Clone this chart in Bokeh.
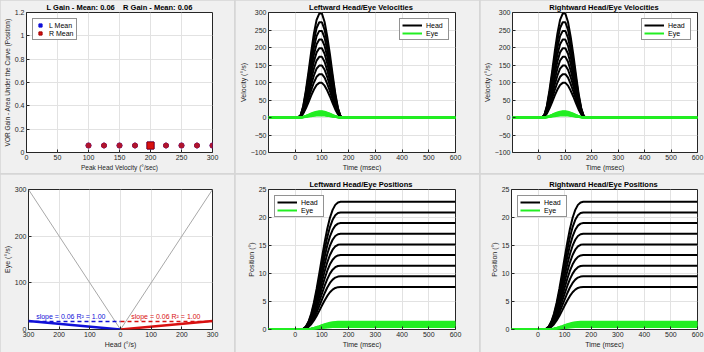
from bokeh.plotting import figure
from bokeh.layouts import column, row
from bokeh.models import Range1d, FixedTicker, Label
from bokeh.embed import file_html
from bokeh.resources import INLINE

# ---------------- data ----------------
PEAK_HEAD_VEL = [100, 125, 150, 175, 200, 225, 250, 275, 300]
L_GAIN = [0.06, 0.06, 0.06, 0.06, 0.06, 0.06, 0.06, 0.06, 0.06]
R_GAIN = [0.06, 0.06, 0.06, 0.06, 0.06, 0.06, 0.06, 0.06, 0.06]
MEAN_X = [200]
L_MEAN = [0.06]
R_MEAN = [0.06]

TIME_MS = [-100, 0, 10, 20, 30, 40, 50, 60, 70, 80, 90, 100, 110, 120, 130,
           140, 150, 160, 170, 180, 190, 200, 600]
VEL_SHAPE = [0, 0, 0, 0.02, 0.11, 0.26, 0.44, 0.63, 0.80, 0.93, 0.99, 0.99,
             0.91, 0.77, 0.60, 0.41, 0.23, 0.09, 0.01, 0, 0, 0, 0]
POS_SHAPE = [0, 0, 0, 0, 0.005, 0.024, 0.063, 0.125, 0.211, 0.318, 0.438,
             0.562, 0.682, 0.789, 0.875, 0.937, 0.976, 0.995, 1.0, 1.0, 1.0, 1.0, 1.0]
HEAD_PEAK_VEL = [100, 125, 150, 175, 200, 225, 250, 275, 300]
EYE_PEAK_VEL = [6.0, 7.5, 9.0, 10.5, 12.0, 13.5, 15.0, 16.5, 18.0]
HEAD_FINAL_POS = [7.6, 9.5, 11.4, 13.3, 15.2, 17.1, 19.0, 20.9, 22.8]
EYE_FINAL_POS = [0.46, 0.57, 0.68, 0.80, 0.91, 1.03, 1.14, 1.25, 1.37]

UNITY_X = [-300, 0, 300]
UNITY_Y = [300, 0, 300]
L_FIT_X = [-300, 0]
L_FIT_Y = [18, 0]
R_FIT_X = [0, 300]
R_FIT_Y = [0, 18]
L_REF_Y = 17
R_REF_Y = 17
FIT_TEXT = "slope = 0.06  R\u00b2 = 1.00"

BG = "#f0f0f0"
AX = "#262626"
GRID = "#e2e2e2"
BLUE = "#1010d8"
RED = "#d81010"
DRED = "#b0142c"
GREEN = "#22ee22"
FONT = "Liberation Sans"


def make_fig(w, h, l, r, t, b, xr, yr, xt, yt, title=None, xlabel="", ylabel="",
             lab_size="7px"):
    p = figure(width=w, height=h, min_border_left=l, min_border_right=r,
               min_border_top=t, min_border_bottom=b, x_range=Range1d(*xr),
               y_range=Range1d(*yr), output_backend="svg", toolbar_location=None,
               title=title)
    p.border_fill_color = BG
    p.background_fill_color = "white"
    p.outline_line_color = AX
    p.outline_line_width = 1
    if title:
        p.title.text_font = FONT
        p.title.text_font_size = "7.5px"
        p.title.text_font_style = "bold"
        p.title.text_color = "black"
        p.title.align = "center"
        p.title.standoff = 1
        p.title.offset = 0
    p.xaxis.ticker = FixedTicker(ticks=xt)
    p.yaxis.ticker = FixedTicker(ticks=yt)
    for ax in (p.xaxis[0], p.yaxis[0]):
        ax.axis_line_color = None
        ax.major_tick_in = 3
        ax.major_tick_out = 0
        ax.major_tick_line_color = AX
        ax.minor_tick_line_color = None
        ax.major_label_text_font = FONT
        ax.major_label_text_font_size = "7px"
        ax.major_label_text_color = AX
        ax.major_label_standoff = 2
        ax.axis_label_text_font = FONT
        ax.axis_label_text_font_size = lab_size
        ax.axis_label_text_font_style = "normal"
        ax.axis_label_text_color = AX
        ax.axis_label_standoff = 1
    p.xaxis.axis_label = xlabel
    p.yaxis.axis_label = ylabel
    p.grid.grid_line_color = GRID
    p.grid.grid_line_width = 1
    return p


def style_legend(p, loc, gw):
    lg = p.legend[0]
    lg.location = loc
    lg.margin = 6
    lg.padding = 2
    lg.spacing = 0
    lg.label_height = 8
    lg.glyph_height = 8
    lg.glyph_width = gw
    lg.label_standoff = 4
    lg.label_text_font = FONT
    lg.label_text_font_size = "7px"
    lg.label_text_color = "black"
    lg.border_line_color = AX
    lg.border_line_width = 1
    lg.background_fill_color = "white"
    lg.background_fill_alpha = 1


# ---------- panel 1: gain vs peak head velocity ----------
p1 = make_fig(234, 173, 25, 22, 11, 21, (0, 300), (0, 1.2),
              [0, 50, 100, 150, 200, 250, 300], [0, 0.2, 0.4, 0.6, 0.8, 1.0, 1.2],
              title="L Gain - Mean: 0.06\u00a0\u00a0\u00a0 R Gain - Mean: 0.06",
              xlabel="Peak Head Velocity (\u00b0/sec)",
              ylabel="VOR Gain - Area Under the Curve (Position)", lab_size="6.5px")
p1.scatter(PEAK_HEAD_VEL, L_GAIN, marker="circle", size=5, color=BLUE)
p1.scatter(PEAK_HEAD_VEL, R_GAIN, marker="circle", size=5, color=DRED)
p1.scatter(MEAN_X, L_MEAN, marker="square", size=7, color=BLUE, legend_label="L Mean")
p1.scatter(MEAN_X, R_MEAN, marker="square", size=7, color=RED, line_color="#a00000",
           legend_label="R Mean")
style_legend(p1, "top_left", 10)


# ---------- velocity panels ----------
def vel_panel(w, l, r, title):
    p = make_fig(w, 173, l, r, 11, 21, (-100, 600), (-100, 300),
                 [0, 100, 200, 300, 400, 500, 600],
                 [-100, -50, 0, 50, 100, 150, 200, 250, 300],
                 title=title, xlabel="Time (msec)", ylabel="Velocity (\u00b0/s)")
    for a in HEAD_PEAK_VEL:
        r_h = p.line(TIME_MS, [a * s for s in VEL_SHAPE], line_color="black", line_width=2)
    for a in EYE_PEAK_VEL:
        r_e = p.line(TIME_MS, [a * s for s in VEL_SHAPE], line_color=GREEN, line_width=2)
    return p, r_h, r_e


def pos_panel(w, l, r, title):
    p = make_fig(w, 178, l, r, 13, 23, (-100, 600), (0, 25),
                 [0, 100, 200, 300, 400, 500, 600], [0, 5, 10, 15, 20, 25],
                 title=title, xlabel="Time (msec)", ylabel="Position (\u00b0)")
    for a in HEAD_FINAL_POS:
        r_h = p.line(TIME_MS, [a * s for s in POS_SHAPE], line_color="black", line_width=2)
    for a in EYE_FINAL_POS:
        r_e = p.line(TIME_MS, [a * s for s in POS_SHAPE], line_color=GREEN, line_width=2)
    return p, r_h, r_e


from bokeh.models import Legend, LegendItem

def add_legend(p, rh, re, loc):
    lg = Legend(items=[LegendItem(label="Head", renderers=[rh]),
                       LegendItem(label="Eye", renderers=[re])])
    p.add_layout(lg)
    style_legend(p, loc, 20)


p2, h2, e2 = vel_panel(244, 33, 24, "Leftward  Head/Eye Velocities")
add_legend(p2, h2, e2, "top_right")
p3, h3, e3 = vel_panel(224, 31, 7, "Rightward  Head/Eye Velocities")
add_legend(p3, h3, e3, "top_right")

# ---------- panel 4: eye vs head ----------
p4 = make_fig(234, 178, 24, 22, 15, 22, (-300, 300), (0, 300),
              [-300, -200, -100, 0, 100, 200, 300], [0, 100, 200, 300],
              xlabel="Head (\u00b0/s)", ylabel="Eye (\u00b0/s)")
p4.xaxis.major_label_overrides = {-300: "300", -200: "200", -100: "100", 0: "0",
                                  100: "100", 200: "200", 300: "300"}
p4.line(UNITY_X, UNITY_Y, line_color="#a8a8a8", line_width=1)
p4.line(L_FIT_X, [L_REF_Y, L_REF_Y], line_color=BLUE, line_width=1.5, line_dash="4 3")
p4.line(R_FIT_X, [R_REF_Y, R_REF_Y], line_color=RED, line_width=1.5, line_dash="4 3")
p4.line(L_FIT_X, L_FIT_Y, line_color=BLUE, line_width=2.5)
p4.line(R_FIT_X, R_FIT_Y, line_color=RED, line_width=2.5)
p4.add_layout(Label(x=-275, y=20, text=FIT_TEXT, text_color=BLUE, text_font=FONT,
                    text_font_size="7px", background_fill_color="white",
                    background_fill_alpha=0.0))
p4.add_layout(Label(x=35, y=20, text=FIT_TEXT, text_color=RED, text_font=FONT,
                    text_font_size="7px"))

p5, h5, e5 = pos_panel(244, 33, 24, "Leftward  Head/Eye Positions")
add_legend(p5, h5, e5, "top_left")
p6, h6, e6 = pos_panel(224, 31, 7, "Rightward  Head/Eye Positions")
add_legend(p6, h6, e6, "top_left")

top = row([p1, p2, p3], spacing=1)
bot = row([p4, p5, p6], spacing=1)
layout = column([top, bot], spacing=1, styles={"background-color": "#d6d6d6"})

open("out.html", "w").write(file_html(layout, INLINE))
